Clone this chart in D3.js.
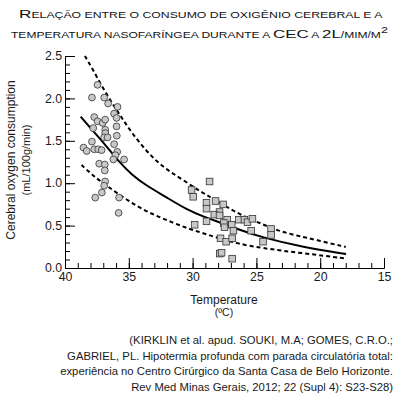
<!DOCTYPE html>
<html>
<head>
<meta charset="utf-8">
<script src="https://cdn.jsdelivr.net/npm/d3@7"></script>
<style>
  body { margin: 0; background: #fff; }
  svg { display: block; font-family: "Liberation Sans", Arial, sans-serif; }
</style>
</head>
<body>
<svg id="chart" width="396" height="395"></svg>
<script>
// pontos: circulos (~37 C) e quadrados (~27 C)
var circleTemp = [37.45, 37.89, 36.93, 36.62, 35.88, 36.15, 35.96, 37.71, 37.45, 37.05, 36.85, 37.79, 36.85, 36.85, 35.96, 36.93, 36.66, 35.94, 37.89, 36.15, 38.55, 38.30, 37.71, 37.40, 37.13, 35.91, 36.05, 36.21, 35.37, 37.32, 36.88, 36.88, 36.85, 36.93, 37.11, 37.63, 35.76, 35.80];
var circleVO2 = [2.16, 2.01, 2.01, 1.94, 1.90, 1.82, 1.77, 1.78, 1.73, 1.71, 1.75, 1.65, 1.63, 1.59, 1.67, 1.54, 1.54, 1.56, 1.49, 1.46, 1.42, 1.38, 1.40, 1.40, 1.39, 1.37, 1.33, 1.28, 1.28, 1.23, 1.22, 1.15, 1.02, 0.97, 0.89, 0.83, 0.83, 0.65];

var squareTemp = [28.67, 30.08, 29.95, 28.20, 28.91, 28.91, 27.60, 27.89, 28.30, 27.89, 28.91, 29.84, 27.29, 27.55, 27.50, 26.93, 26.38, 25.94, 25.70, 25.31, 26.80, 25.41, 27.81, 27.37, 26.90, 27.87, 27.73, 26.90, 23.85, 23.85, 24.48];
var squareVO2 = [1.02, 0.92, 0.84, 0.79, 0.77, 0.70, 0.75, 0.66, 0.63, 0.62, 0.55, 0.51, 0.57, 0.53, 0.48, 0.51, 0.57, 0.57, 0.54, 0.58, 0.44, 0.44, 0.35, 0.31, 0.35, 0.17, 0.18, 0.11, 0.46, 0.39, 0.31];

// curva ajustada e limites
var fitTemp = [38.77, 37.87, 36.82, 35.78, 34.74, 33.70, 32.13, 30.41, 29.12, 27.81, 26.51, 24.69, 21.30, 17.97];
var fitVO2 = [1.784, 1.627, 1.45, 1.254, 1.097, 0.979, 0.841, 0.684, 0.605, 0.534, 0.46, 0.366, 0.244, 0.165];

var upperTemp = [38.44, 37.87, 37.09, 36.30, 35.52, 34.74, 33.70, 32.40, 30.94, 29.38, 28.20, 26.25, 24.69, 23.13, 21.30, 18.00];
var upperVO2 = [2.50, 2.355, 2.138, 1.942, 1.765, 1.588, 1.392, 1.195, 1.058, 0.90, 0.80, 0.625, 0.527, 0.428, 0.365, 0.248];

var lowerTemp = [38.70, 37.87, 36.82, 35.63, 34.32, 33.02, 31.72, 30.41, 29.12, 27.81, 26.51, 24.69, 21.30, 17.97];
var lowerVO2 = [1.215, 1.097, 0.979, 0.853, 0.723, 0.625, 0.546, 0.468, 0.409, 0.342, 0.291, 0.236, 0.173, 0.112];

var xTicks = [40, 35, 30, 25, 20, 15];
var yTicks = [0, 0.5, 1.0, 1.5, 2.0, 2.5];

// titulo em versaletes: [texto, maiuscula grande?]
var titleLine1 = [["R", true], ["elação entre o consumo de oxigênio cerebral e a", false]];
var titleLine2 = [["temperatura nasofaríngea durante a ", false], ["CEC", true], [" a ", false], ["2L", true], ["/mim/m", false]];
var sourceLines = [
    "(KIRKLIN et al. apud. SOUKI, M.A; GOMES, C.R.O.;",
    "GABRIEL, PL. Hipotermia profunda com parada circulatória total:",
    "experiência no Centro Cirúrgico da Santa Casa de Belo Horizonte.",
    "Rev Med Minas Gerais, 2012; 22 (Supl 4): S23-S28)"
];

function zip(a, b) {
    return a.map(function(v, i) { return [v, b[i]]; });
}

var svg = d3.select("#chart");

var x = d3.scaleLinear().domain([40, 15]).range([65, 384]);
var y = d3.scaleLinear().domain([0, 2.5]).range([268, 56]);

// titulo
function titleLine(parts, x0, y0, width, sup) {
    var t = svg.append("text")
        .attr("fill", "#111")
        .attr("x", 0).attr("y", 0);
    parts.forEach(function(p) {
        t.append("tspan")
            .attr("font-size", p[1] ? 11.5 : 8.2)
            .text(p[0].toUpperCase());
    });
    if (sup) {
        t.append("tspan")
            .attr("font-size", 8.5)
            .attr("dy", -5)
            .text(sup);
    }
    var w = t.node().getBBox().width;
    t.attr("transform", "translate(" + x0 + "," + y0 + ") scale(" + (width / w) + ",1)");
}
titleLine(titleLine1, 19, 18, 364);
titleLine(titleLine2, 11, 37.5, 377, "2");

// eixos
svg.append("g")
    .attr("transform", "translate(0," + y(0) + ")")
    .call(d3.axisBottom(x).tickValues(xTicks).tickSize(-10).tickPadding(4).tickFormat(d3.format("d")));

svg.append("g")
    .attr("transform", "translate(0," + y(0) + ")")
    .call(d3.axisBottom(x).tickValues(d3.range(15, 41, 1)).tickSize(-5).tickFormat(""))
    .select(".domain").remove();

var axisY = svg.append("g")
    .attr("transform", "translate(" + x(40) + ",0)")
    .call(d3.axisLeft(y).tickValues(yTicks).tickSize(-10).tickPadding(3).tickFormat(d3.format(".1f")));

svg.append("g")
    .attr("transform", "translate(" + x(40) + ",0)")
    .call(d3.axisLeft(y).tickValues(d3.range(0, 26, 1).map(function(d) { return d / 10; })).tickSize(-5).tickFormat(""))
    .select(".domain").remove();

svg.selectAll(".domain").attr("stroke", "#000").attr("stroke-width", 1);
svg.selectAll(".tick line").attr("stroke", "#000");
svg.selectAll(".tick text")
    .attr("font-size", 12.3)
    .attr("fill", "#1a1a1a")
    .attr("font-family", "'Liberation Sans', Arial, sans-serif");

axisY.selectAll(".tick text").attr("dy", "0.3em");

// rotulos dos eixos
svg.append("text")
    .attr("transform", "translate(15,160) rotate(-90)")
    .attr("text-anchor", "middle")
    .attr("font-size", 12)
    .attr("fill", "#1a1a1a")
    .text("Cerebral oxygen consumption");

svg.append("text")
    .attr("transform", "translate(30,160) rotate(-90)")
    .attr("text-anchor", "middle")
    .attr("font-size", 11)
    .attr("fill", "#1a1a1a")
    .text("(mL/100g/min)");

svg.append("text")
    .attr("x", 224).attr("y", 304)
    .attr("text-anchor", "middle")
    .attr("font-size", 12)
    .attr("fill", "#1a1a1a")
    .text("Temperature");

svg.append("text")
    .attr("x", 224).attr("y", 316)
    .attr("text-anchor", "middle")
    .attr("font-size", 10.5)
    .attr("fill", "#1a1a1a")
    .text("(ºC)");

// curvas
var line = d3.line()
    .x(function(d) { return x(d[0]); })
    .y(function(d) { return y(d[1]); })
    .curve(d3.curveBasis);

svg.append("path")
    .datum(zip(upperTemp, upperVO2))
    .attr("d", line)
    .attr("fill", "none")
    .attr("stroke", "#000")
    .attr("stroke-width", 2)
    .attr("stroke-dasharray", "4,3");

svg.append("path")
    .datum(zip(lowerTemp, lowerVO2))
    .attr("d", line)
    .attr("fill", "none")
    .attr("stroke", "#000")
    .attr("stroke-width", 2)
    .attr("stroke-dasharray", "4,3");

svg.append("path")
    .datum(zip(fitTemp, fitVO2))
    .attr("d", line)
    .attr("fill", "none")
    .attr("stroke", "#000")
    .attr("stroke-width", 2);

// pontos
svg.append("g").selectAll("circle")
    .data(zip(circleTemp, circleVO2))
    .enter().append("circle")
    .attr("cx", function(d) { return x(d[0]); })
    .attr("cy", function(d) { return y(d[1]); })
    .attr("r", 3.4)
    .attr("fill", "#c8c8c8")
    .attr("stroke", "#333")
    .attr("stroke-width", 0.8);

svg.append("g").selectAll("rect")
    .data(zip(squareTemp, squareVO2))
    .enter().append("rect")
    .attr("x", function(d) { return x(d[0]) - 3.3; })
    .attr("y", function(d) { return y(d[1]) - 3.3; })
    .attr("width", 6.6)
    .attr("height", 6.6)
    .attr("fill", "#c8c8c8")
    .attr("stroke", "#333")
    .attr("stroke-width", 0.8);

// fonte
svg.append("g")
    .attr("text-anchor", "end")
    .attr("font-size", 11.3)
    .attr("fill", "#1a1a1a")
    .selectAll("text")
    .data(sourceLines)
    .enter().append("text")
    .attr("x", 393)
    .attr("y", function(d, i) { return 344 + i * 15.6; })
    .text(function(d) { return d; });
</script>
</body>
</html>
